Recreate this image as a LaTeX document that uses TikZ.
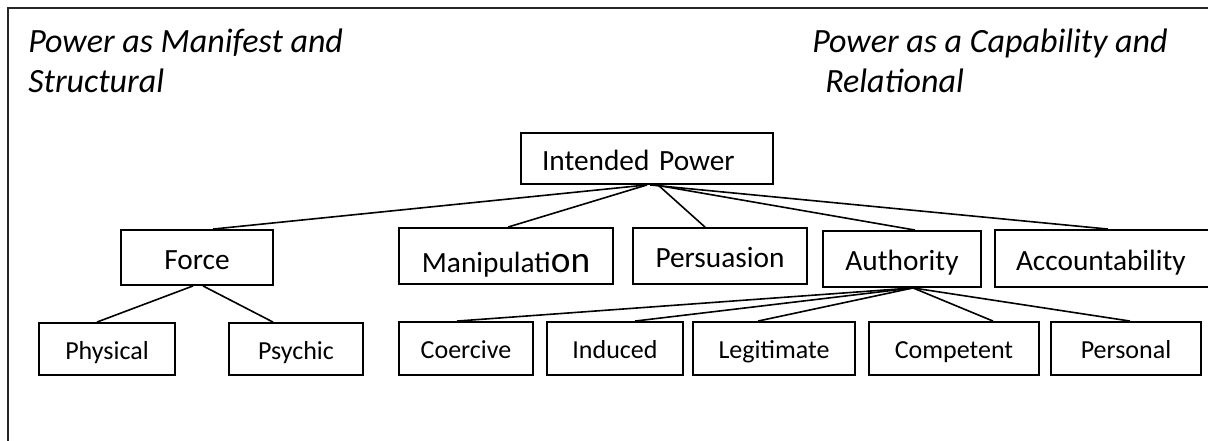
\documentclass[tikz,border=0pt]{standalone}
\usepackage{fontspec}
\setmainfont{Carlito}
\tikzset{
  box/.style={draw, line width=1.4pt, inner sep=0pt, fill=white, text depth=0pt},
  wh/.style 2 args={minimum width=#1*0.75pt, minimum height=#2*0.75pt},
  upper/.style={box, text height=17.25pt, font=\fontsize{22}{26}\selectfont},
  lower/.style={box, text height=15.5pt, font=\fontsize{19.5}{23}\selectfont},
  title/.style={anchor=base west, inner sep=0pt, align=left,
    font=\fontsize{25.5}{29.5}\selectfont\itshape},
  link/.style={line width=1.2pt}}
\begin{document}
\begin{tikzpicture}[x=0.75pt,y=-0.75pt]
\useasboundingbox (0,0) rectangle (1208,440);
\clip (0,0) rectangle (1208,440);

% outer frame (runs past the right and bottom edges)
\draw[line width=1.5pt, black!85] (8,460) -- (8,8) -- (1230,8);

% headings (anchored on the baseline of their last line)
\node[title] (lefthead) at (28,92) {Power as Manifest and\\Structural};
\node[title] (righthead) at (812,92) {Power as a Capability and\\\hspace*{9.75pt}Relational};

% top level
\node[upper, wh={252}{51}, text height=18.5pt, text width=157.5pt, align=left] (ip) at (647,158.5) {Intended Power};

% second level
\node[upper, wh={152}{55}] (force) at (197,257.5) {Force};
\node[upper, wh={214}{56}, text height=25pt] (manip) at (506,256)
  {Manipulati{\fontsize{28}{30}\selectfont on}};
\node[upper, wh={174}{56}] (pers) at (720,256) {Persuasion};
\node[upper, wh={158}{56}] (auth) at (902,259) {Authority};
\node[upper, wh={220}{57}, text width=133.5pt, align=left] (acc) at (1105,258.5) {Accountability};

% third level
\node[lower, wh={136}{52}] (phys) at (107,349) {Physical};
\node[lower, wh={134}{52}] (psy) at (296,349) {Psychic};
\node[lower, wh={134}{53}] (coer) at (466,348.5) {Coercive};
\node[lower, wh={136}{53}] (ind) at (615,348.5) {Induced};
\node[lower, wh={162}{53}] (legit) at (774,348.5) {Legitimate};
\node[lower, wh={170}{53}] (comp) at (954,348.5) {Competent};
\node[lower, wh={150}{53}] (persl) at (1126,348.5) {Personal};

% links from Intended Power
\draw[link] (ip.south) -- ([shift={(16,0)}]force.north);
\draw[link] (ip.south) -- ([shift={(2,0)}]manip.north);
\draw[link] ([shift={(11,0)}]ip.south) -- ([shift={(-15,0)}]pers.north);
\draw[link] ([shift={(8,0)}]ip.south) -- ([shift={(13,0)}]auth.north);
\draw[link] ([shift={(3,0)}]ip.south) -- ([shift={(3,0)}]acc.north);

% links from Force
\draw[link] ([shift={(-4,0)}]force.south) -- ([shift={(-10,0)}]phys.north);
\draw[link] ([shift={(6,0)}]force.south) -- ([shift={(-23,0)}]psy.north);

% links from Authority
\draw[link] ([shift={(11,0)}]auth.south) -- ([shift={(-9,0)}]coer.north);
\draw[link] ([shift={(11,0)}]auth.south) -- ([shift={(20,0)}]ind.north);
\draw[link] ([shift={(11,0)}]auth.south) -- ([shift={(-16,0)}]legit.north);
\draw[link] ([shift={(11,0)}]auth.south) -- ([shift={(39,0)}]comp.north);
\draw[link] ([shift={(11,0)}]auth.south) -- ([shift={(4,0)}]persl.north);
\end{tikzpicture}
\end{document}
